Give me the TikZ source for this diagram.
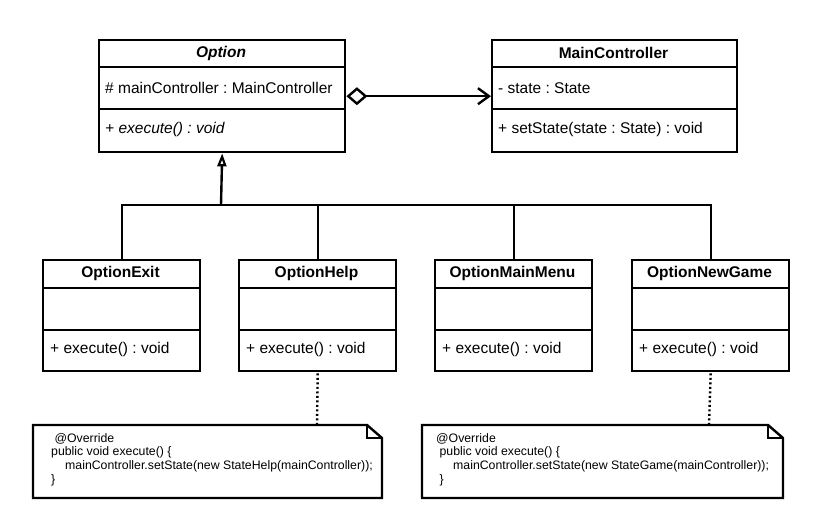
\documentclass[tikz,border=0pt]{standalone}
\usepackage{fontspec}
\setmainfont{Liberation Sans}
\usetikzlibrary{arrows.meta,calc}
\frenchspacing
\tikzset{
  classbox/.style={draw, line width=2.4pt, rectangle, inner sep=0pt, anchor=north west},
  sepline/.style={line width=2.4pt},
  titletext/.style={font=\fontsize{15.5}{18}\selectfont\bfseries, inner sep=0pt},
  membertext/.style={font=\fontsize{15.5}{18}\selectfont, inner sep=0pt, anchor=west},
  notetext/.style={font=\fontsize{12.3}{13.7}\selectfont, inner sep=0pt, anchor=north west, align=left},
  conn/.style={line width=2.4pt},
  dotconn/.style={line width=2.4pt, dash pattern=on 2pt off 2.5pt},
  notebox/.style={line width=2.4pt, line join=miter}
}
\begin{document}
\begin{tikzpicture}[x=1pt,y=-1pt]
\useasboundingbox (0,0) rectangle (820,516);

% ---- Option ----
\node[classbox, minimum width=246pt, minimum height=112pt] (opt) at (98,39) {};
\draw[sepline] (98,67) -- (344,67);
\draw[sepline] (98,109) -- (344,109);
\node[titletext, font=\fontsize{15.5}{18}\selectfont\bfseries\itshape] (optt) at (221,53) {Option};
\node[membertext] (opta) at (105,88) {\# mainController : MainController};
\node[membertext, font=\fontsize{15.5}{18}\selectfont\itshape] (opto) at (105,129) {+ execute() : void};

% ---- MainController ----
\node[classbox, minimum width=245pt, minimum height=112pt] (mc) at (491,39) {};
\draw[sepline] (491,67) -- (736,67);
\draw[sepline] (491,109) -- (736,109);
\node[titletext] (mct) at (613.5,53) {MainController};
\node[membertext] (mca) at (498,88) {- state : State};
\node[membertext] (mco) at (498,129) {+ setState(state : State) : void};

% ---- children ----
\foreach \nm/\x/\ttl in {exit/42/OptionExit, help/238/OptionHelp, menu/434/OptionMainMenu, newg/631/OptionNewGame}{
  \node[classbox, minimum width=157pt, minimum height=111pt] (\nm) at (\x,259) {};
  \draw[sepline] (\x,288) -- ++(157,0);
  \draw[sepline] (\x,330) -- ++(157,0);
  \node[titletext] (\nm t) at ($(\x,273.5)+(78.5,0)$) {\ttl};
  \node[membertext] (\nm o) at ($(\x,349)+(8,0)$) {+ execute() : void};
}

% ---- aggregation ----
\draw[conn, {Diamond[open, length=21pt, width=18pt, line width=2.4pt]}-{Straight Barb[length=11pt, width=16pt, line width=2.4pt]}] (opt.east) -- (mc.west);

% ---- generalization tree ----
\coordinate (j) at (221,205);
\draw[conn] (exit.north) |- (j);
\draw[conn] (help.north) |- (j);
\draw[conn] (menu.north) |- (j);
\draw[conn] (newg.north) |- (j);
\draw[conn, -{Triangle[open, length=13pt, width=9pt, line width=2.2pt]}] (j) -- (opt.south);

% ---- notes ----
\draw[notebox] (33,425) -- (367,425) -- (382,438) -- (382,498) -- (33,498) -- cycle;
\draw[notebox] (367,425) -- (367,438) -- (382,438);
\coordinate (n1) at (317,425);
\node[notetext] (n1t) at (51,433) {\ @Override\\public void execute() \{\\\hspace*{14pt}mainController.setState(new StateHelp(mainController));\\\}};

\draw[notebox] (422,425) -- (768,425) -- (783,438) -- (783,498) -- (422,498) -- cycle;
\draw[notebox] (768,425) -- (768,438) -- (783,438);
\coordinate (n2) at (709,425);
\node[notetext] (n2t) at (436,433) {@Override\\\ public void execute() \{\\\hspace*{17pt}mainController.setState(new StateGame(mainController));\\\ \}};

\draw[dotconn] ($(help.south)+(0,1)$) -- (n1);
\draw[dotconn] ($(newg.south)+(0,1)$) -- (n2);
\end{tikzpicture}
\end{document}
